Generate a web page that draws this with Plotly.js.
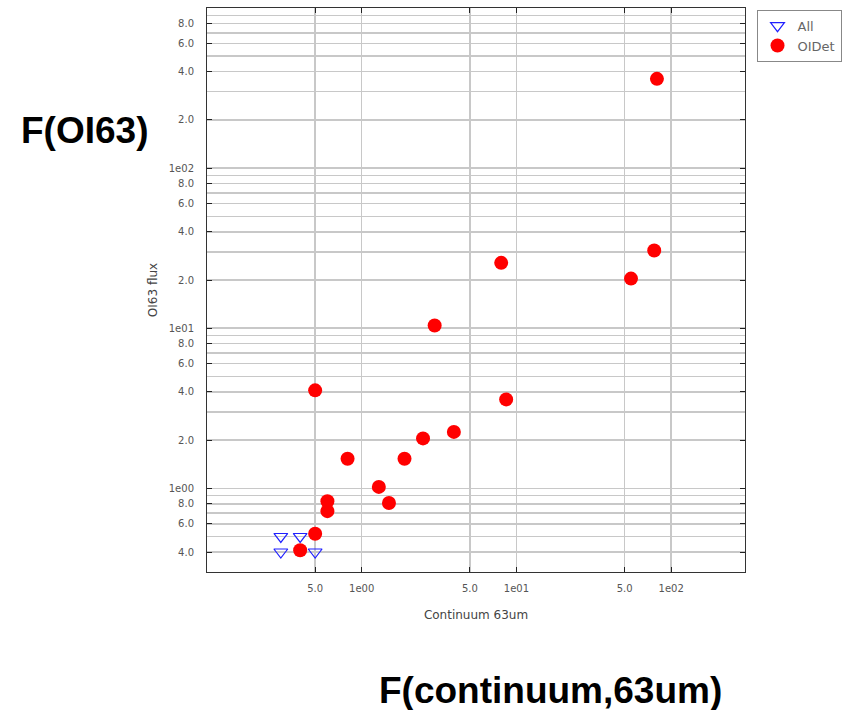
<!DOCTYPE html>
<html>
<head>
<meta charset="utf-8">
<script src="https://cdn.plot.ly/plotly-3.0.1.min.js"></script>
<style>html,body{margin:0;padding:0;background:#fff;}#chart{width:859px;height:710px;}</style>
</head>
<body>
<div id="chart"></div>
<script>
// Upper limits ("All")
const allX = [0.3, 0.4, 0.3, 0.5];
const allY = [0.5, 0.5, 0.4, 0.4];
// Detections ("OIDet")
const detX = [0.40, 0.50, 0.60, 0.60, 0.81, 1.29, 1.50, 1.89, 2.49, 3.94, 0.50, 2.96, 7.97, 8.58, 55.0, 77.7, 80.9];
const detY = [0.41, 0.52, 0.83, 0.72, 1.53, 1.02, 0.81, 1.53, 2.05, 2.25, 4.09, 10.4, 25.6, 3.59, 20.4, 30.6, 361];

const yTickVals = [0.4,0.6,0.8,1,2,4,6,8,10,20,40,60,80,100,200,400,600,800];
const yTickText = ["4.0","6.0","8.0","1e00","2.0","4.0","6.0","8.0","1e01","2.0","4.0","6.0","8.0","1e02","2.0","4.0","6.0","8.0"];
const yMinorVals = [0.3,0.5,0.7,0.9,3,5,7,9,30,50,70,90,300,500,700,900];
const xTickVals = [0.5,1,5,10,50,100];
const xTickText = ["5.0","1e00","5.0","1e01","5.0","1e02"];

const traces = [
  {x: allX, y: allY, name: "All", type: "scatter", mode: "markers",
   marker: {symbol: "triangle-down-open", size: 12, color: "#2020ff", line: {width: 1.2, color: "#2020ff"}}},
  {x: detX, y: detY, name: "OIDet", type: "scatter", mode: "markers",
   marker: {symbol: "circle", size: 14, color: "#ff0000", line: {width: 0}}}
];

const tickFont = {family: "DejaVu Sans", size: 10, color: "#555"};
const layout = {
  width: 859, height: 710,
  margin: {l: 207, r: 113.5, t: 7.5, b: 138.3},
  paper_bgcolor: "#fff", plot_bgcolor: "#fff",
  showlegend: true,
  legend: {x: 1.0214, y: 0.997, xanchor: "left", yanchor: "top",
           bgcolor: "#fff", bordercolor: "#888", borderwidth: 1,
           font: {family: "DejaVu Sans", size: 13, color: "#666"}},
  xaxis: {type: "log", range: [-1, Math.log10(300)], autorange: false,
          tickvals: xTickVals, ticktext: xTickText, tickfont: tickFont,
          ticks: "inside", ticklen: 5, tickcolor: "#222", tickwidth: 1,
          showline: true, linecolor: "#333", linewidth: 1, mirror: "ticks",
          showgrid: true, gridcolor: "#c8c8c8", gridwidth: 1.5, zeroline: false,
          ticklabelstandoff: 7,
          title: {text: "Continuum 63um", font: {family: "DejaVu Sans", size: 12, color: "#444"}, standoff: 17}},
  yaxis: {type: "log", range: [Math.log10(0.3), 3], autorange: false,
          tickvals: yTickVals, ticktext: yTickText, tickfont: tickFont,
          ticks: "inside", ticklen: 5, tickcolor: "#222", tickwidth: 1,
          showline: true, linecolor: "#333", linewidth: 1, mirror: "ticks",
          showgrid: true, gridcolor: "#c8c8c8", gridwidth: 1.5, zeroline: false,
          ticklabelstandoff: 10,
          minor: {tickvals: yMinorVals, showgrid: true, gridcolor: "#c8c8c8", gridwidth: 1.5, ticks: ""},
          title: {text: "OI63 flux", font: {family: "DejaVu Sans", size: 12, color: "#444"}, standoff: 8}},
  annotations: [
    {text: "<b>F(OI63)</b>", xref: "paper", yref: "paper", x: -0.2284, y: 0.7829,
     xanchor: "center", yanchor: "middle", showarrow: false,
     font: {family: "Liberation Sans", size: 37, color: "#000"}},
    {text: "<b>F(continuum,63um)</b>", xref: "paper", yref: "paper", x: 0.6388, y: -0.2097,
     xanchor: "center", yanchor: "middle", showarrow: false,
     font: {family: "Liberation Sans", size: 37, color: "#000"}}
  ]
};
Plotly.newPlot("chart", traces, layout, {displayModeBar: false, staticPlot: true});
</script>
</body>
</html>
